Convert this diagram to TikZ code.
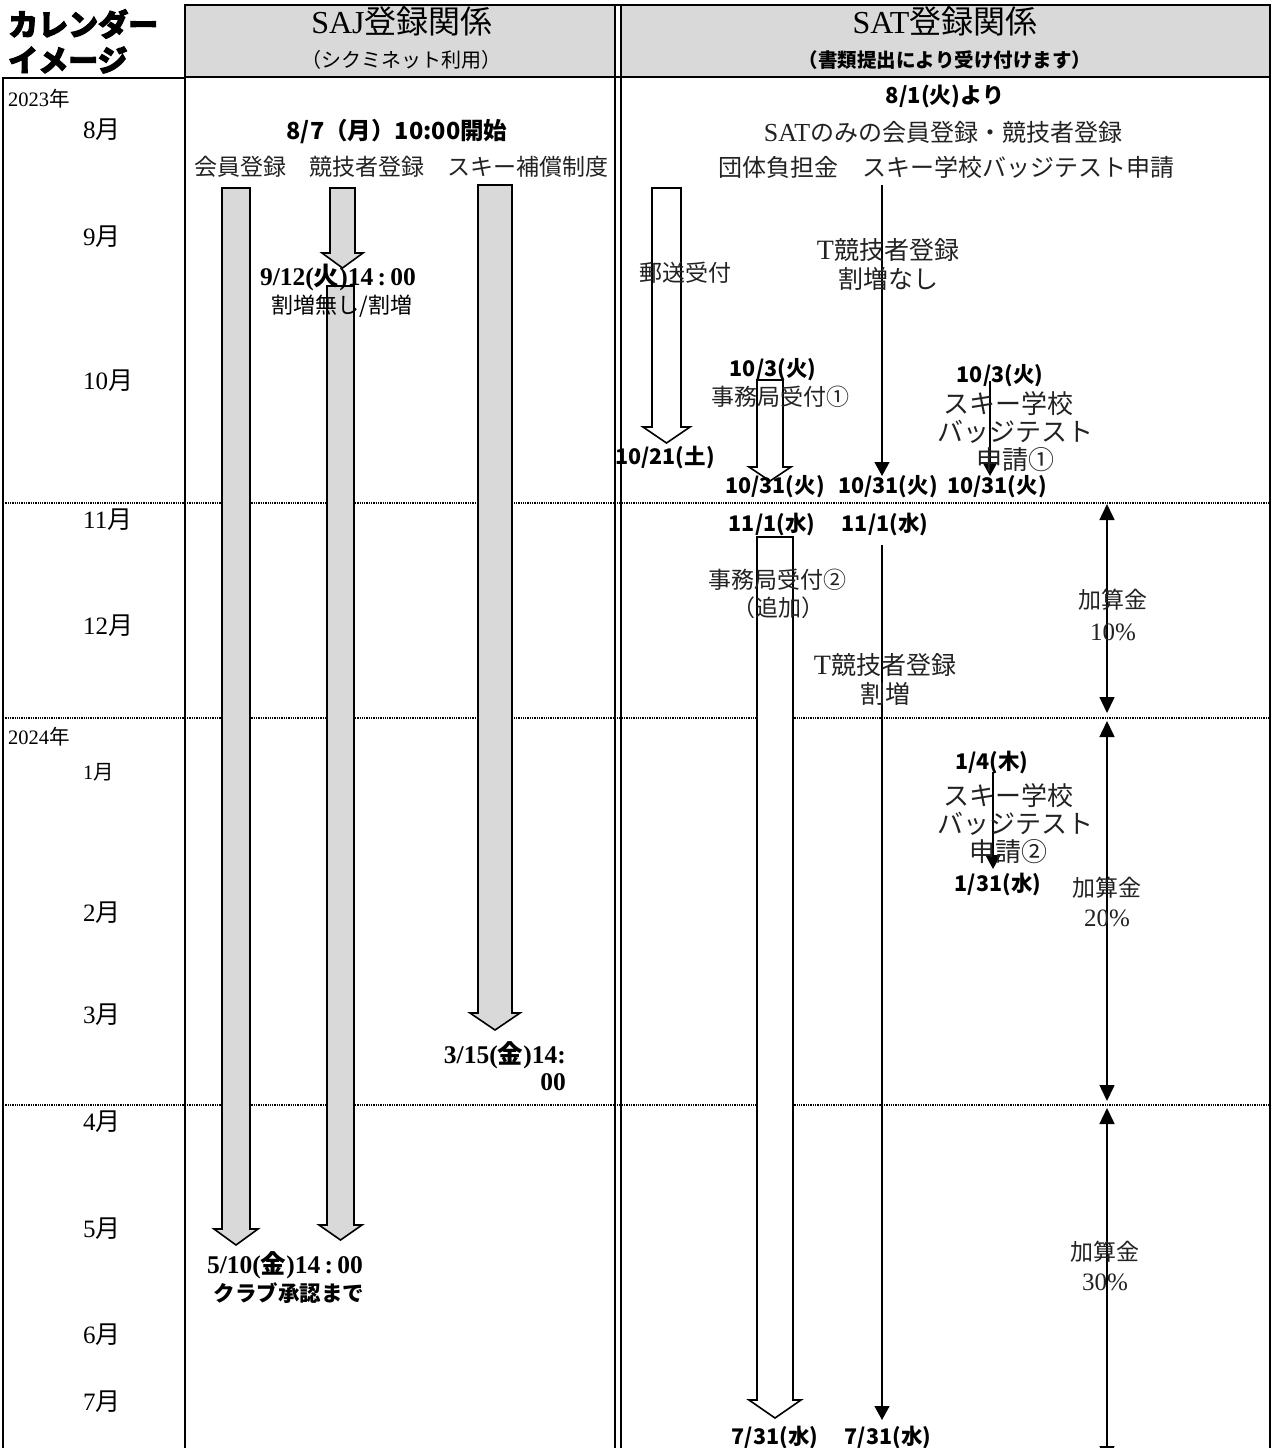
\documentclass[tikz,border=0pt]{standalone}
\usepackage{fontspec}
\usetikzlibrary{arrows.meta}
\setmainfont{Liberation Serif}
\newfontfamily\jp{Noto Sans CJK JP}
\newfontfamily\popf{Noto Sans CJK JP}[BoldFeatures={FakeBold=3}]
\definecolor{hdr}{HTML}{D9D9D9}
\definecolor{txt}{HTML}{222222}
\newcommand\fs[1]{\fontsize{#1}{#1}\selectfont}
% block arrow: fill, xl, xr, ytop, yhead, wing, ytip
\newcommand\barrow[7]{%
  \draw[blockline, fill=#1] (#2,#4) -- (#2,#5) -- ({#2-#6},#5) -- ({(#2+#3)/2},#7)
     -- ({#3+#6},#5) -- (#3,#5) -- (#3,#4) -- cycle;}
\begin{document}
\begin{tikzpicture}[x=1pt,y=-1pt,
  frame/.style={line width=2.6pt},
  blockline/.style={line width=1.6pt, line join=miter},
  dotline/.style={line width=2pt, dash pattern=on 1.3pt off 1pt},
  thinarrow/.style={line width=1.5pt, -{Triangle[width=15pt,length=14pt]}},
  dblarrow/.style={line width=1.5pt, {Triangle[width=15pt,length=16pt]}-{Triangle[width=15pt,length=16pt]}},
  mincho/.style={inner sep=0pt, text=txt, font=\jp\fs{23}},
  mincho24/.style={inner sep=0pt, text=txt, font=\jp\fs{24}},
  big/.style={inner sep=0pt, text=txt, font=\jp\fs{25}},
  dateg/.style={inner sep=0pt, font=\jp\bfseries\fs{21.5}},
  dates/.style={inner sep=0pt, font=\bfseries\fs{25.5}},
  month/.style={inner sep=0pt, anchor=west, font=\fs{25}},
  year/.style={inner sep=0pt, anchor=west, font=\fs{20.5}},
  title/.style={inner sep=0pt, font=\fs{32}},
  pct/.style={inner sep=0pt, text=txt, font=\fs{25}},
]
\useasboundingbox (0,0) rectangle (1274,1448);
% header backgrounds
\fill[hdr] (185,5) rectangle (615,77);
\fill[hdr] (621,5) rectangle (1270,77);
% dotted separators
\foreach \yy in {503,718,1105} \draw[dotline] (3,\yy) -- (1270,\yy);
% frame lines
\draw[frame] (185,5) -- (1270,5);
\draw[frame] (185,77) -- (1270,77);
\draw[frame] (3,78) -- (185,78);
\draw[frame] (3,77) -- (3,1460);
\draw[frame] (185,4) -- (185,1460);
\draw[line width=2pt] (615,4) -- (615,1460);
\draw[line width=2pt] (621,4) -- (621,1460);
\draw[frame] (1270,4) -- (1270,1460);

% ---------- header texts ----------
\node[inner sep=0pt, anchor=west, font=\popf\bfseries\fs{30}] (cal1) at (8,24) {カレンダー};
\node[inner sep=0pt, anchor=west, font=\popf\bfseries\fs{30}] (cal2) at (8,60) {イメージ};
\node[title] (sajt) at (402,21) {SAJ{\jp 登録関係}};
\node[inner sep=0pt, font=\jp\fs{20}] (sajs) at (401,60) {（シクミネット利用）};
\node[title] (satt) at (945,21) {SAT{\jp 登録関係}};
\node[inner sep=0pt, font=\jp\bfseries\fs{19.5}] (sats) at (945,60) {（書類提出により受け付けます）};

% ---------- calendar column ----------
\node[year] (y23) at (8,99) {2023{\jp 年}};
\node[month] (m8) at (83,130) {8{\jp 月}};
\node[month] (m9) at (83,237) {9{\jp 月}};
\node[month] (m10) at (83,381) {10{\jp 月}};
\node[month] (m11) at (83,520) {11{\jp 月}};
\node[month] (m12) at (83,626) {12{\jp 月}};
\node[year] (y24) at (8,737) {2024{\jp 年}};
\node[year] (m1) at (83,772) {1{\jp 月}};
\node[month] (m2) at (83,913) {2{\jp 月}};
\node[month] (m3) at (83,1015) {3{\jp 月}};
\node[month] (m4) at (83,1122) {4{\jp 月}};
\node[month] (m5) at (83,1229) {5{\jp 月}};
\node[month] (m6) at (83,1335) {6{\jp 月}};
\node[month] (m7) at (83,1402) {7{\jp 月}};

% ---------- SAJ column ----------
\barrow{hdr}{222}{250}{188}{1229}{8}{1245}
\barrow{hdr}{330}{355}{188}{253}{8}{268}
\barrow{hdr}{327}{354}{286}{1225}{8}{1240}
\barrow{hdr}{478}{512}{185}{1013}{8}{1030}

\node[dateg, font=\jp\bfseries\fs{23.5}] (saj0) at (397,132) {8/7（月）10:00開始};
\node[mincho] (sajcols) at (401,167) {会員登録　競技者登録　スキー補償制度};
\node[dates] (d912) at (338,277) {9/12({\jp 火})14\,:\,00};
\node[inner sep=0pt, font=\jp\fs{22}] (wari) at (342,306) {割増無し/割増};
\node[dates, anchor=east] (d315a) at (566,1055) {3/15({\jp 金})14:};
\node[dates, anchor=east] (d315b) at (566,1082) {00};
\node[dates] (d510) at (285,1265) {5/10({\jp 金})14\,:\,00};
\node[dateg] (club) at (289,1293) {クラブ承認まで};

% ---------- SAT column ----------
\node[dateg, font=\jp\bfseries\fs{22}] (sat0) at (945,97) {8/1(火)より};
\node[mincho24] (sat1) at (943,132) {{\rmfamily\fs{26}SAT}のみの会員登録・競技者登録};
\node[mincho24] (sat2) at (946,167) {団体負担金　スキー学校バッジテスト申請};

% postal
\barrow{white}{652}{681}{188}{427}{9}{443}
\node[mincho] (yuso) at (685,273) {郵送受付};
\node[dateg] (d1021) at (665,458) {10/21(土)};

% T athlete no surcharge
\coordinate (ta1s) at (882,185);
\coordinate (ta1e) at (882,476);
\draw[thinarrow] (ta1s) -- (ta1e);
\node[big] (t1a) at (888,250) {{\rmfamily\fs{28}T}競技者登録};
\node[big] (t1b) at (888,279) {割増なし};

% office 1
\barrow{white}{757}{783}{380}{467}{8}{481}
\node[dateg] (d103a) at (773,370) {10/3(火)};
\node[mincho] (of1) at (780,397) {事務局受付①};

% ski school 1
\coordinate (sk1s) at (990,381);
\coordinate (sk1e) at (990,476);
\draw[thinarrow] (sk1s) -- (sk1e);
\node[dateg] (d103b) at (1000,376) {10/3(火)};
\node[inner sep=0pt, text=txt, font=\jp\fs{26}] (sk1a) at (1008,404) {スキー学校};
\node[inner sep=0pt, text=txt, font=\jp\fs{26}] (sk1b) at (1015,432) {バッジテスト};
\node[inner sep=0pt, text=txt, font=\jp\fs{26}] (sk1c) at (1015,460) {申請①};

\node[dateg] (e1) at (775,487) {10/31(火)};
\node[dateg] (e2) at (888,487) {10/31(火)};
\node[dateg] (e3) at (997,487) {10/31(火)};
\node[dateg] (n1) at (772,525) {11/1(水)};
\node[dateg] (n2) at (885,525) {11/1(水)};

% office 2
\barrow{white}{757}{793}{537}{1400}{8}{1418}
\node[mincho] (of2a) at (777,580) {事務局受付②};
\node[mincho] (of2b) at (778,608) {（追加）};

% T athlete surcharge
\coordinate (ta2s) at (882,545);
\coordinate (ta2e) at (882,1420);
\draw[thinarrow] (ta2s) -- (ta2e);
\node[big] (t2a) at (885,665) {{\rmfamily\fs{28}T}競技者登録};
\node[big] (t2b) at (885,694) {割増};

\node[dateg] (f1) at (775,1437) {7/31(水)};
\node[dateg] (f2) at (888,1437) {7/31(水)};

% ski school 2
\coordinate (sk2s) at (993,772);
\coordinate (sk2e) at (993,869);
\draw[thinarrow] (sk2s) -- (sk2e);
\node[dateg] (d14) at (992,763) {1/4(木)};
\node[inner sep=0pt, text=txt, font=\jp\fs{26}] (sk2a) at (1008,796) {スキー学校};
\node[inner sep=0pt, text=txt, font=\jp\fs{26}] (sk2b) at (1015,824) {バッジテスト};
\node[inner sep=0pt, text=txt, font=\jp\fs{26}] (sk2c) at (1008,852) {申請②};
\node[dateg] (d131) at (998,885) {1/31(水)};

% surcharge arrows
\coordinate (s1a) at (1107,504);
\coordinate (s1b) at (1107,713);
\coordinate (s2a) at (1107,721);
\coordinate (s2b) at (1107,1101);
\coordinate (s3a) at (1107,1108);
\coordinate (s3b) at (1107,1462);
\draw[dblarrow] (s1a) -- (s1b);
\draw[dblarrow] (s2a) -- (s2b);
\draw[dblarrow] (s3a) -- (s3b);
\node[mincho] (k1a) at (1113,600) {加算金};
\node[pct] (k1b) at (1113,632) {10\%};
\node[mincho] (k2a) at (1107,888) {加算金};
\node[pct] (k2b) at (1107,918) {20\%};
\node[mincho] (k3a) at (1105,1252) {加算金};
\node[pct] (k3b) at (1105,1282) {30\%};
\end{tikzpicture}
\end{document}
